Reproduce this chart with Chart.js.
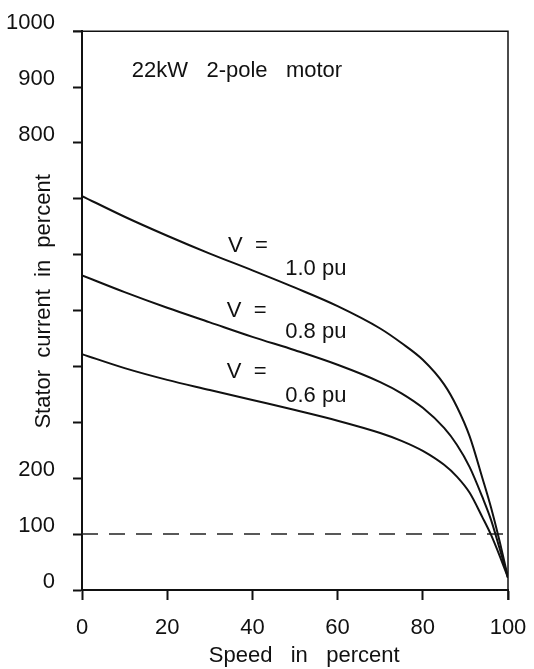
<!DOCTYPE html>
<html>
<head>
<meta charset="utf-8">
<script src="https://cdn.jsdelivr.net/npm/chart.js@4"></script>
<style>
  body { margin: 0; background: #fff; }
</style>
</head>
<body>
<canvas id="motorChart" width="534" height="669"></canvas>
<script>
// speed in percent of synchronous speed
const speed = [0, 10, 20, 30, 40, 50, 60, 70, 75, 80, 85, 88, 91, 94, 96, 98, 100];
// stator current in percent
const current10 = [705, 668, 634, 602, 572, 541, 508, 468, 442, 412, 368, 328, 275, 200, 148, 88, 22];
const current08 = [563, 533, 505, 479, 453, 429, 403, 372, 352, 326, 290, 260, 220, 166, 126, 75, 22];
const current06 = [422, 397, 376, 358, 340, 322, 303, 281, 267, 249, 224, 203, 174, 130, 99, 62, 22];
const ratedX = [0, 100];
const ratedY = [100, 100];
const hiddenTicks = [300, 400, 500, 600, 700];

const FONT = 'Liberation Sans, Arial, Helvetica, sans-serif';
const ink = '#111';

const pts = (xs, ys) => xs.map((x, i) => ({ x: x, y: ys[i] }));

const curve = (label, ys) => ({
    label: label,
    data: pts(speed, ys),
    borderColor: ink,
    borderWidth: 2,
    pointRadius: 0,
    cubicInterpolationMode: 'monotone',
    fill: false
});

// text written inside the plot, placed in data units
const notes = [
    { text: '22kW   2-pole   motor', x: 11.7, y: 929 },
    { text: 'V  =', x: 34.3, y: 616 },
    { text: '1.0 pu', x: 47.7, y: 575 },
    { text: 'V  =', x: 34.0, y: 500 },
    { text: '0.8 pu', x: 47.7, y: 461 },
    { text: 'V  =', x: 34.0, y: 391 },
    { text: '0.6 pu', x: 47.7, y: 348 }
];

const framePlugin = {
    id: 'frame',
    afterDraw(chart) {
        const { ctx, chartArea: a, scales } = chart;
        ctx.save();
        ctx.strokeStyle = ink;
        ctx.lineWidth = 1.5;
        ctx.beginPath();
        ctx.moveTo(a.left - 9, a.top);
        ctx.lineTo(a.right, a.top);
        ctx.lineTo(a.right, a.bottom + 10);
        ctx.stroke();
        ctx.fillStyle = ink;
        ctx.font = '22px ' + FONT;
        ctx.textAlign = 'left';
        ctx.textBaseline = 'middle';
        notes.forEach(n => {
            ctx.fillText(n.text, scales.x.getPixelForValue(n.x), scales.y.getPixelForValue(n.y));
        });
        ctx.restore();
    }
};

const ctx = document.getElementById('motorChart').getContext('2d');

new Chart(ctx, {
    type: 'line',
    data: {
        datasets: [
            curve('V = 1.0 pu', current10),
            curve('V = 0.8 pu', current08),
            curve('V = 0.6 pu', current06),
            {
                label: 'rated',
                data: pts(ratedX, ratedY),
                borderColor: '#222',
                borderWidth: 1.5,
                borderDash: [16, 11],
                pointRadius: 0,
                fill: false
            }
        ]
    },
    options: {
        responsive: false,
        animation: false,
        layout: { padding: { top: 30, right: 26, left: 0, bottom: 0 } },
        plugins: {
            legend: { display: false },
            tooltip: { enabled: false }
        },
        scales: {
            x: {
                type: 'linear',
                min: 0,
                max: 100,
                afterFit: s => { s.height = 79; s.paddingLeft = 0; s.paddingRight = 0; },
                border: { display: true, color: ink, width: 2 },
                grid: { drawOnChartArea: false, drawTicks: true, tickLength: 10, tickColor: ink, tickWidth: 2 },
                ticks: { stepSize: 20, padding: 15, color: ink, font: { family: FONT, size: 22 } },
                title: {
                    display: true,
                    text: '   Speed   in   percent',
                    color: ink,
                    font: { family: FONT, size: 22 },
                    padding: { top: 0, bottom: 0 }
                }
            },
            y: {
                min: 0,
                max: 1000,
                afterFit: s => { s.width = 82; },
                border: { display: true, color: ink, width: 2 },
                grid: { drawOnChartArea: false, drawTicks: true, tickLength: 9, tickColor: ink, tickWidth: 2 },
                ticks: {
                    stepSize: 100,
                    padding: 18,
                    labelOffset: -8,
                    color: ink,
                    font: { family: FONT, size: 22 },
                    callback: v => hiddenTicks.includes(v) ? '' : v
                },
                title: {
                    display: true,
                    text: '   Stator  current  in  percent',
                    color: ink,
                    font: { family: FONT, size: 22 },
                    padding: { top: 31, bottom: 0 }
                }
            }
        }
    },
    plugins: [framePlugin]
});
</script>
</body>
</html>
